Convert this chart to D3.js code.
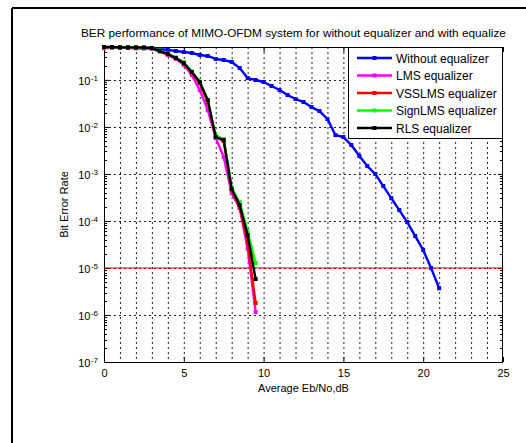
<!DOCTYPE html>
<html><head><meta charset="utf-8">
<script src="https://cdn.jsdelivr.net/npm/d3@7"></script>
<style>
body{margin:0;background:#fff}
svg{display:block}
text{font-family:Arial,"Liberation Sans",sans-serif;fill:#000}
</style>
</head><body>
<svg id="c" width="526" height="443"></svg>
<script>
// ---------- data ----------
const snrEq = [0,0.5,1,1.5,2,2.5,3,3.5,4,4.5,5,5.5,6,6.5,7,7.5,8,8.5,9,9.5];
const snrNoEq = [0,0.5,1,1.5,2,2.5,3,3.5,4,4.5,5,5.5,6,6.5,7,7.5,8,8.5,9,9.5,10,10.5,11,11.5,12,12.5,13,13.5,14,14.5,15,15.5,16,16.5,17,17.5,18,18.5,19,19.5,20,20.5,21];
const berNoEq = [0.49,0.49,0.48,0.48,0.47,0.47,0.46,0.453,0.432,0.411,0.391,0.373,0.338,0.322,0.278,0.265,0.24,0.179,0.109,0.0993,0.090,0.074,0.0608,0.0476,0.0392,0.0338,0.0264,0.0217,0.0147,0.00671,0.00608,0.00411,0.0024,0.00147,0.000993,0.000552,0.000306,0.00017,0.0000946,0.0000476,0.000024,0.0000099,0.0000037];
const berLMS = [0.47,0.48,0.48,0.48,0.48,0.47,0.46,0.40,0.34,0.28,0.21,0.127,0.0608,0.0229,0.0058,0.00229,0.00039,0.000187,0.000026,0.00000115];
const berVSSLMS = [0.49,0.49,0.5,0.49,0.49,0.48,0.47,0.41,0.35,0.29,0.22,0.14,0.085,0.033,0.0062,0.0050,0.00045,0.0002,0.000034,0.0000018];
const berSignLMS = [0.49,0.49,0.49,0.5,0.49,0.48,0.47,0.42,0.36,0.30,0.235,0.15,0.092,0.036,0.0065,0.0055,0.0005,0.00025,0.00006,0.0000127];
const berRLS = [0.5,0.5,0.49,0.49,0.49,0.488,0.476,0.411,0.355,0.292,0.229,0.147,0.090,0.0372,0.00608,0.00525,0.000477,0.000217,0.00005,0.0000058];
const seriesNames = ["Without equalizer","LMS equalizer","VSSLMS equalizer","SignLMS equalizer","RLS equalizer"];
const seriesColors = ["#0000ff","#ff00ff","#ff0000","#00ff00","#000000"];
const xTicks = [0,5,10,15,20,25];
const xGrid = [1,2,3,4,5,6,7,8,9,10,11,12,13,14,15,16,17,18,19,20,21,22,23,24];
const yTicks = [1e-7,1e-6,1e-5,1e-4,1e-3,1e-2,1e-1];
const yTickExp = ["-7","-6","-5","-4","-3","-2","-1"];
const refBER = 1e-5;
const titleText = "BER performance of MIMO-OFDM system for without equalizer and with equalize";
const xLabel = "Average Eb/No,dB";
const yLabel = "Bit Error Rate";

// ---------- layout ----------
const L = 104, R = 503, T = 47, B = 362;
const svg = d3.select("#c");
const x = d3.scaleLinear().domain([0,25]).range([L,R]);
const y = d3.scaleLog().domain([1e-7,0.5]).range([B,T]);

// outer figure frame (left & top edges visible)
svg.append("line").attr("x1",12).attr("x2",526).attr("y1",8).attr("y2",8).attr("stroke","#000").attr("stroke-width",2);
svg.append("line").attr("x1",12).attr("x2",12).attr("y1",8).attr("y2",443).attr("stroke","#000").attr("stroke-width",2);

// grid
const grid = svg.append("g").attr("stroke","#222").attr("stroke-width",1).attr("stroke-dasharray","2,3");
grid.selectAll("line.v").data(xGrid).join("line").attr("class","v")
  .attr("x1",d=>x(d)+0.5).attr("x2",d=>x(d)+0.5).attr("y1",T).attr("y2",B);
grid.selectAll("line.h").data(yTicks.slice(1)).join("line").attr("class","h")
  .attr("x1",L).attr("x2",R).attr("y1",d=>Math.round(y(d))+0.5).attr("y2",d=>Math.round(y(d))+0.5);

// axes box
svg.append("rect").attr("x",L+0.5).attr("y",T+0.5).attr("width",R-L-1).attr("height",B-T)
  .attr("fill","none").attr("stroke","#000").attr("stroke-width",1);

// minor y ticks
const minor = y.ticks().filter(v => !yTicks.some(t => Math.abs(t-v)/t < 1e-6));
const mt = svg.append("g").attr("stroke","#000").attr("stroke-width",1);
mt.selectAll("line.l").data(minor).join("line").attr("class","l")
  .attr("x1",L).attr("x2",L+3).attr("y1",d=>Math.round(y(d))+0.5).attr("y2",d=>Math.round(y(d))+0.5);
mt.selectAll("line.r").data(minor).join("line").attr("class","r")
  .attr("x1",R-3).attr("x2",R).attr("y1",d=>Math.round(y(d))+0.5).attr("y2",d=>Math.round(y(d))+0.5);

// x axis
const gx = svg.append("g").attr("transform",`translate(0,${B})`)
  .call(d3.axisBottom(x).tickValues(xTicks).tickSize(-5).tickPadding(7).tickFormat(d3.format("d")));
gx.select(".domain").remove();
gx.selectAll("text").attr("font-size","11px").attr("font-family","Arial, Liberation Sans, sans-serif").attr("fill","#000");
const gxt = svg.append("g").attr("transform",`translate(0,${T})`)
  .call(d3.axisTop(x).tickValues(xTicks).tickSize(-5).tickFormat(""));
gxt.select(".domain").remove();

// y axis
const gy = svg.append("g").attr("transform",`translate(${L},0)`)
  .call(d3.axisLeft(y).tickValues(yTicks).tickSize(-5).tickPadding(8).tickFormat(""));
gy.select(".domain").remove();
gy.selectAll(".tick").each(function(d,i){
  const t = d3.select(this).select("text").attr("fill","#000").attr("font-size","11px")
    .attr("font-family","Arial, Liberation Sans, sans-serif").attr("x",-6).attr("dy","0.45em");
  t.append("tspan").text("10");
  t.append("tspan").attr("font-size","8px").attr("dy","-0.6em").attr("dx","0.5").text(yTickExp[i]);
});
const gyr = svg.append("g").attr("transform",`translate(${R},0)`)
  .call(d3.axisRight(y).tickValues(yTicks).tickSize(-5).tickFormat(""));
gyr.select(".domain").remove();

// reference line
svg.append("line").attr("x1",L).attr("x2",R).attr("y1",y(refBER)).attr("y2",y(refBER))
  .attr("stroke","#ff0000").attr("stroke-width",1);

// series
const series = [
  {x:snrNoEq, y:berNoEq},
  {x:snrEq, y:berLMS},
  {x:snrEq, y:berVSSLMS},
  {x:snrEq, y:berSignLMS},
  {x:snrEq, y:berRLS}
];
const line = d3.line().x(d=>x(d[0])).y(d=>y(d[1]));
series.forEach((s,i)=>{
  const pts = s.x.map((v,j)=>[v,s.y[j]]);
  const g = svg.append("g");
  g.append("path").attr("d",line(pts)).attr("fill","none").attr("stroke",seriesColors[i])
    .attr("stroke-width",2.4).attr("stroke-linejoin","round");
  g.selectAll("rect").data(pts).join("rect")
    .attr("x",d=>x(d[0])-2).attr("y",d=>y(d[1])-2).attr("width",4).attr("height",4)
    .attr("fill",seriesColors[i]);
});

// legend
const lg = svg.append("g");
lg.append("rect").attr("x",348.5).attr("y",T+0.5).attr("width",R-348-1).attr("height",91)
  .attr("fill","#fff").attr("stroke","#000").attr("stroke-width",1);
seriesNames.forEach((n,i)=>{
  const yy = 58 + i*17.5;
  lg.append("line").attr("x1",357).attr("x2",392).attr("y1",yy).attr("y2",yy)
    .attr("stroke",seriesColors[i]).attr("stroke-width",2.4);
  lg.append("rect").attr("x",372.5).attr("y",yy-2).attr("width",4).attr("height",4).attr("fill",seriesColors[i]);
  lg.append("text").attr("x",396).attr("y",yy+4.5).attr("font-size","12px").text(n);
});

// title and labels
svg.append("text").attr("x",81).attr("y",37).attr("font-size","11.8px").text(titleText);
svg.append("text").attr("x",(L+R)/2).attr("y",392).attr("text-anchor","middle").attr("font-size","11px").text(xLabel);
svg.append("text").attr("transform",`translate(68,${(T+B)/2}) rotate(-90)`).attr("text-anchor","middle")
  .attr("font-size","11px").text(yLabel);
</script>
</body></html>
